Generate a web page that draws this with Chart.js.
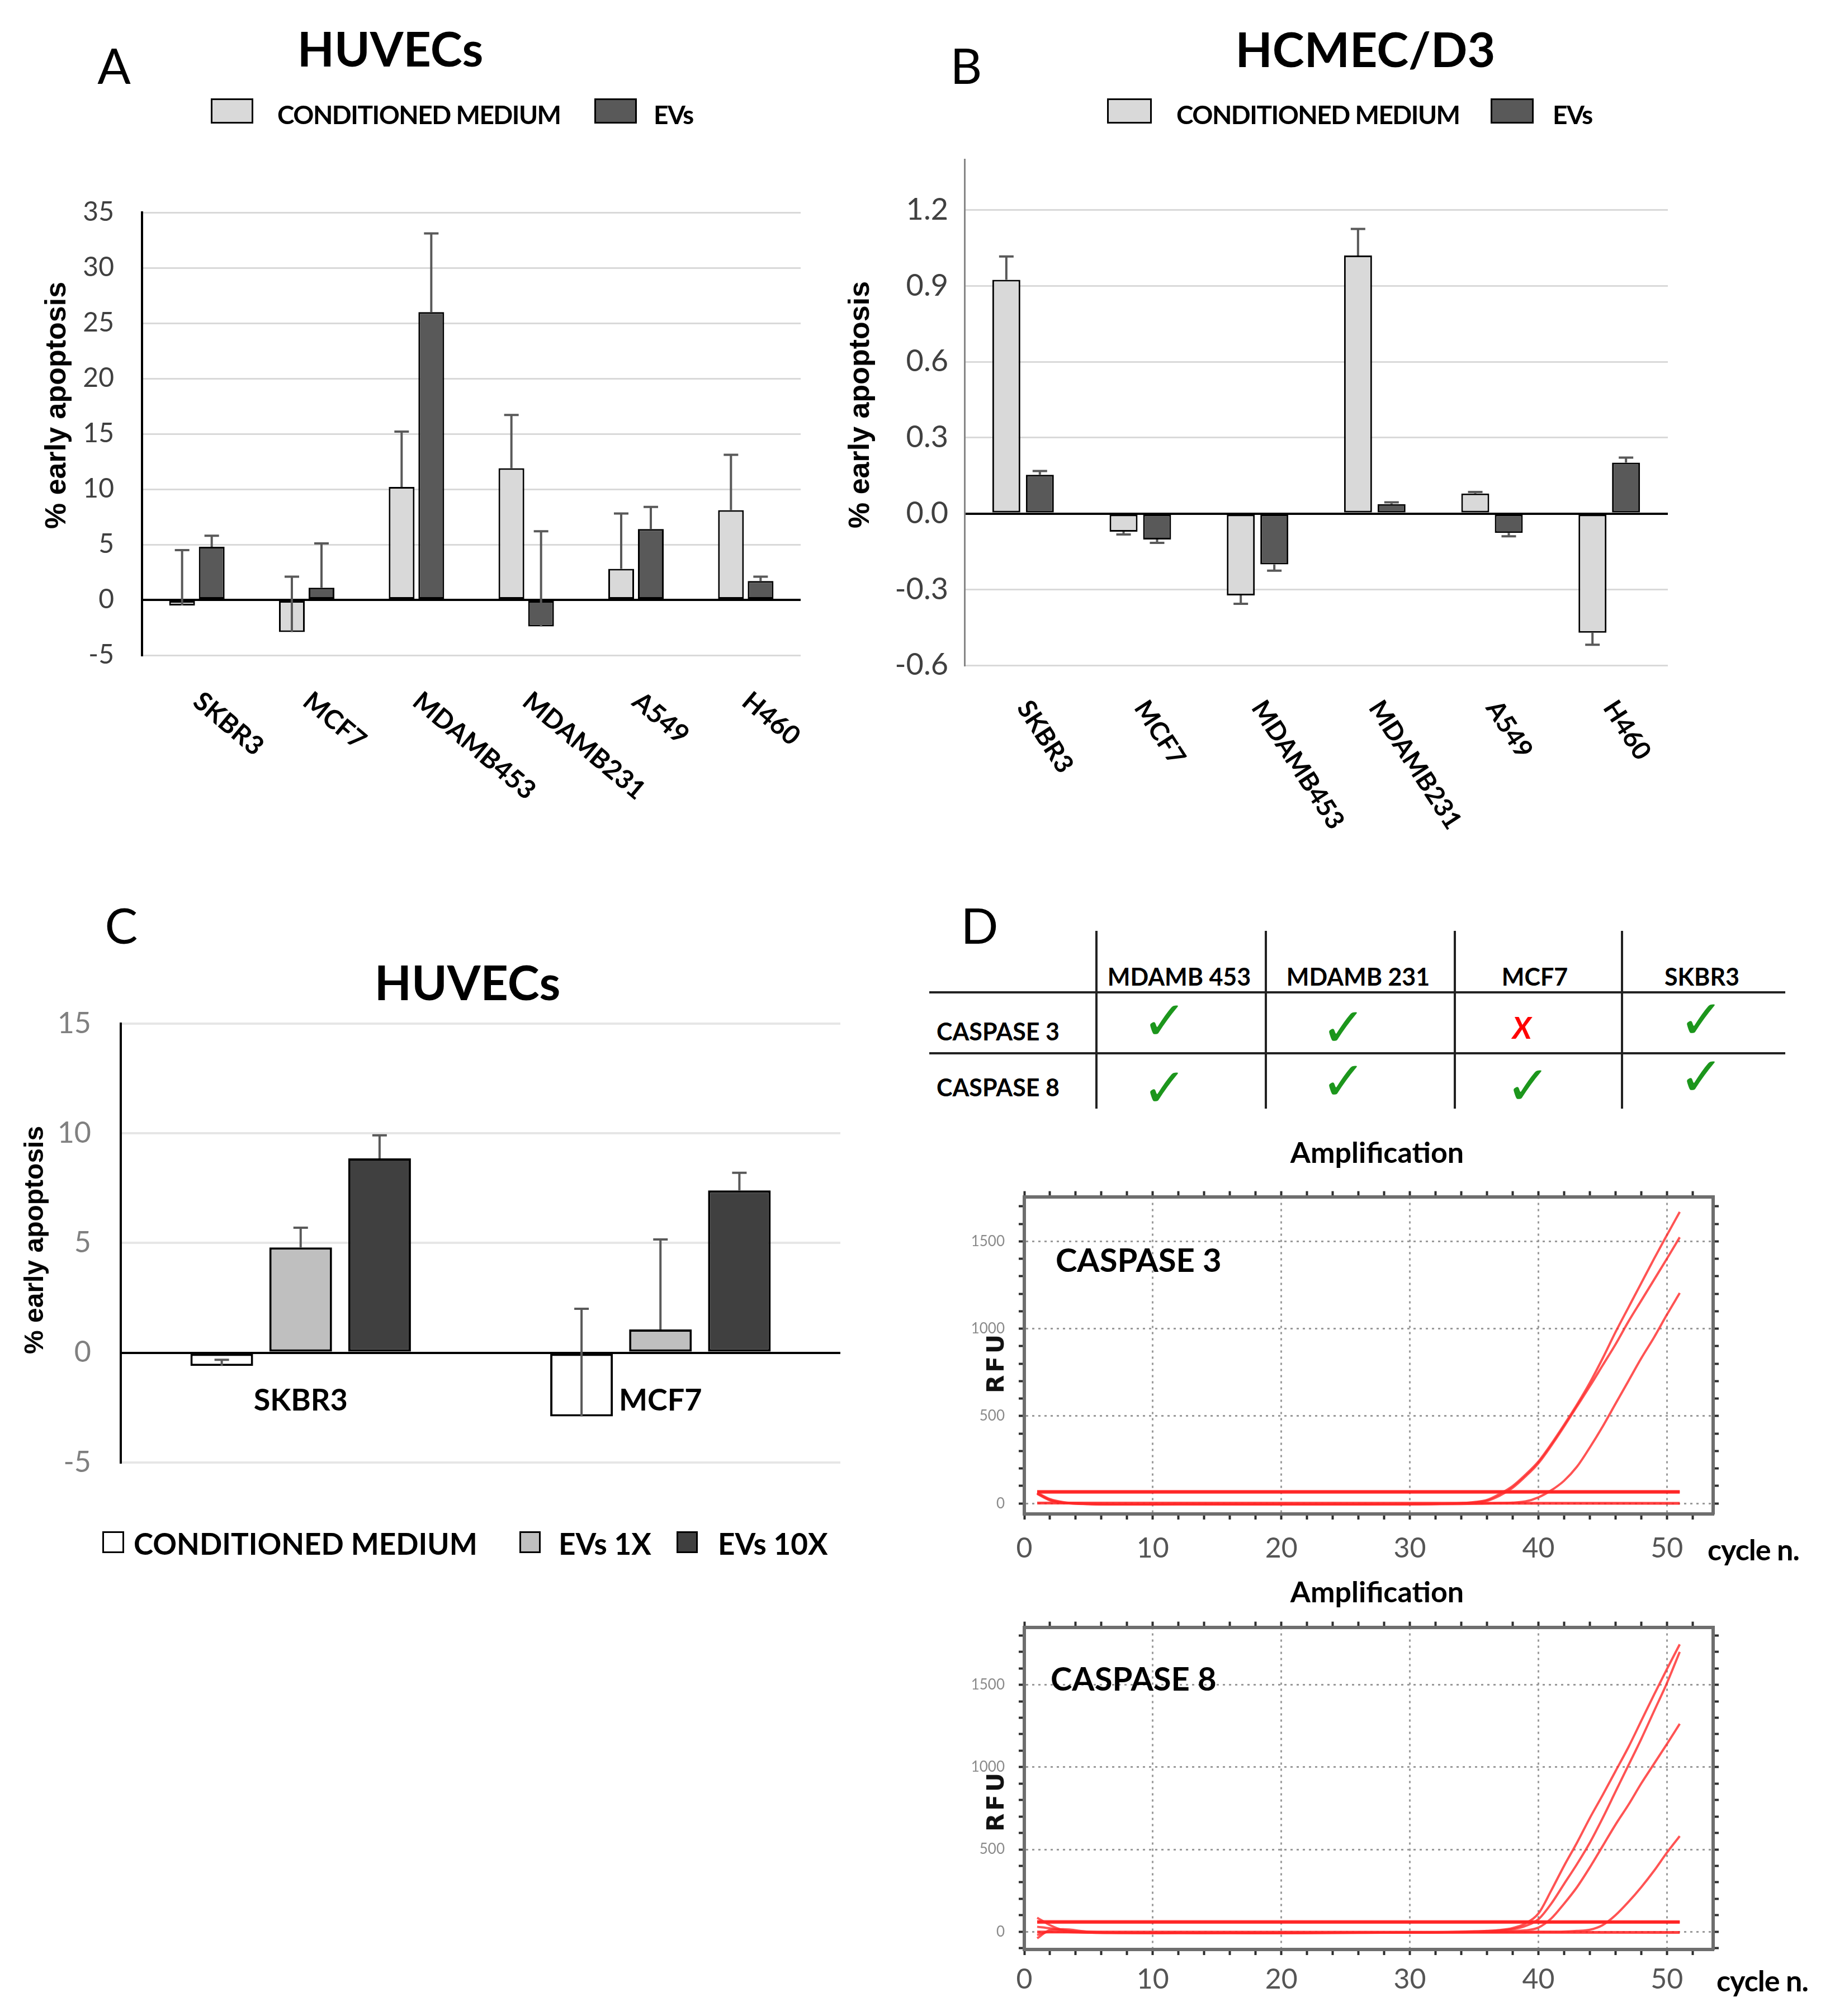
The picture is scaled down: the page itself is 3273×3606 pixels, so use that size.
<!DOCTYPE html>
<html>
<head>
<meta charset="utf-8">
<script src="https://cdn.jsdelivr.net/npm/chart.js@4.4.1/dist/chart.umd.min.js"></script>
<style>
html, body { margin:0; padding:0; background:#fff; }
body { width:3273px; height:3606px; position:relative; overflow:hidden; font-family:Lato, "Open Sans", sans-serif; color:#000; }
.wrap { position:absolute; }
.c { position:absolute; transform:translate(-50%,-50%); white-space:nowrap; line-height:1; }
.l { position:absolute; transform:translateY(-50%); white-space:nowrap; line-height:1; }
.yt { position:absolute; transform:translate(-50%,-50%) rotate(-90deg); white-space:nowrap; line-height:1;
      font-family:"Liberation Sans", Arial, sans-serif; font-weight:bold; }
.rfu { font-family:"DejaVu Sans", sans-serif; font-size:42px; letter-spacing:5px; color:#111; }
.box { position:absolute; box-sizing:border-box; border:3px solid #000; }
.letter { font-size:88px; }
.title { font-size:86px; font-weight:bold; }
.leg { font-size:46px; font-weight:bold; letter-spacing:-1.5px; }
.legC { font-size:53px; font-weight:bold; }
.th { font-size:43px; font-weight:bold; }
.ok { font-family:"DejaVu Sans", sans-serif; font-size:96px; color:#1c961c; }
.no { font-size:54px; font-weight:bold; font-style:italic; color:#f00; }
.amp { font-size:52px; font-weight:bold; }
.casp { font-size:58px; font-weight:bold; }
.cyc { font-size:52px; font-weight:bold; letter-spacing:-1px; }
.hl { position:absolute; height:4px; background:#222; }
.vl { position:absolute; width:4px; background:#222; }
</style>
</head>
<body>

<div class="wrap" style="left:0;top:0;width:1560px;height:1500px"><canvas id="chartA"></canvas></div>
<div class="wrap" style="left:1450px;top:0;width:1700px;height:1500px"><canvas id="chartB"></canvas></div>
<div class="wrap" style="left:0;top:1550px;width:1600px;height:1150px"><canvas id="chartC"></canvas></div>
<div class="wrap" style="left:1600px;top:2100px;width:1500px;height:700px"><canvas id="chartD1"></canvas></div>
<div class="wrap" style="left:1600px;top:2870px;width:1500px;height:710px"><canvas id="chartD2"></canvas></div>

<!-- panel letters and titles -->
<div class="c letter" style="left:204px;top:116px">A</div>
<div class="c letter" style="left:1728px;top:116px">B</div>
<div class="c letter" style="left:217px;top:1654px">C</div>
<div class="c letter" style="left:1752px;top:1654px">D</div>
<div class="c title" style="left:698px;top:86px">HUVECs</div>
<div class="c title" style="left:2442px;top:87px">HCMEC/D3</div>
<div class="c title" style="left:836px;top:1756px">HUVECs</div>

<!-- axis titles -->
<div class="yt" style="left:99px;top:725px;font-size:52px">% early apoptosis</div>
<div class="yt" style="left:1536px;top:724px;font-size:52px">% early apoptosis</div>
<div class="yt" style="left:61px;top:2218px;font-size:48px">% early apoptosis</div>
<div class="yt rfu" style="left:1781px;top:2437px">RFU</div>
<div class="yt rfu" style="left:1781px;top:3221px">RFU</div>

<!-- legends A / B -->
<div class="box" style="left:377px;top:176px;width:76px;height:45px;background:#d9d9d9"></div>
<div class="l leg" style="left:496px;top:205px">CONDITIONED MEDIUM</div>
<div class="box" style="left:1063px;top:176px;width:76px;height:45px;background:#595959"></div>
<div class="l leg" style="left:1169px;top:205px">EVs</div>
<div class="box" style="left:1980px;top:176px;width:80px;height:45px;background:#d9d9d9"></div>
<div class="l leg" style="left:2104px;top:205px">CONDITIONED MEDIUM</div>
<div class="box" style="left:2666px;top:176px;width:77px;height:45px;background:#595959"></div>
<div class="l leg" style="left:2777px;top:205px">EVs</div>

<!-- legend C -->
<div class="box" style="left:183px;top:2739px;width:39px;height:39px;background:#fff"></div>
<div class="l legC" style="left:239px;top:2760px">CONDITIONED MEDIUM</div>
<div class="box" style="left:929px;top:2739px;width:38px;height:39px;background:#bfbfbf"></div>
<div class="l legC" style="left:999px;top:2760px">EVs 1X</div>
<div class="box" style="left:1210px;top:2739px;width:38px;height:39px;background:#404040"></div>
<div class="l legC" style="left:1284px;top:2760px">EVs 10X</div>

<div id="table-d"></div>

<div class="c amp" style="left:2463px;top:2060px">Amplification</div>
<div class="c amp" style="left:2463px;top:2846px">Amplification</div>
<div class="l casp" style="left:1888px;top:2253px">CASPASE 3</div>
<div class="l casp" style="left:1879px;top:3002px">CASPASE 8</div>
<div class="l cyc" style="left:3054px;top:2771px">cycle n.</div>
<div class="l cyc" style="left:3070px;top:3542px">cycle n.</div>

<script>
// ===================================================
// DATA
// ===================================================
const cellLines = ['SKBR3', 'MCF7', 'MDAMB453', 'MDAMB231', 'A549', 'H460'];

// A - HUVECs (% early apoptosis), error = signed length of the error bar
const huvecCM     = [-0.5, -2.9, 10.2, 11.9, 2.8, 8.1];
const huvecCMErr  = [5.0, 5.0, 5.0, 4.8, 5.0, 5.0];
const huvecEV     = [4.8, 1.1, 26.0, -2.4, 6.4, 1.7];
const huvecEVErr  = [1.0, 4.0, 7.1, 8.6, 2.0, 0.4];

// B - HCMEC/D3
const hcmecCM     = [0.924, -0.072, -0.324, 1.020, 0.079, -0.471];
const hcmecCMErr  = [0.092, -0.011, -0.033, 0.105, 0.006, -0.048];
const hcmecEV     = [0.153, -0.103, -0.201, 0.037, -0.077, 0.201];
const hcmecEVErr  = [0.015, -0.013, -0.025, 0.007, -0.013, 0.020];

// C - HUVECs, EV dose
const doseLines   = ['SKBR3', 'MCF7'];
const doseCM      = [-0.6, -2.9];
const doseCMErr   = [0.28, 4.9];
const dose1X      = [4.8, 1.06];
const dose1XErr   = [0.9, 4.1];
const dose10X     = [8.86, 7.4];
const dose10XErr  = [1.05, 0.8];

// D - caspase expression table
const tableCols = ['MDAMB 453', 'MDAMB 231', 'MCF7', 'SKBR3'];
const tableRows = ['CASPASE 3', 'CASPASE 8'];
const tableHits = [[true, true, false, true], [true, true, true, true]];

// D - amplification curves (RFU per cycle)
const cycles = [1,2,3,5,8,12,16,20,24,28,32,34,35,36,37,38,39,40,41,42,43,44,45,46,47,48,49,50,51];
const casp3A = [62,25,8,-2,-5,-4,-6,-5,-4,-5,-3,2,8,20,55,100,165,240,340,450,565,690,830,980,1120,1260,1400,1535,1668];
const casp3B = [58,20,5,-3,-6,-5,-4,-6,-5,-4,-2,1,5,15,45,90,155,230,330,440,555,670,790,910,1040,1160,1280,1400,1523];
const casp3C = [55,18,4,-4,-6,-5,-5,-4,-6,-5,-4,-3,-2,0,2,5,12,35,75,130,210,320,440,570,700,830,950,1080,1204];
const casp8A = [85,40,10,-5,-8,-7,-8,-9,-8,-6,-4,0,2,5,10,22,50,110,250,400,540,690,830,975,1120,1280,1440,1595,1746];
const casp8B = [-40,10,15,0,-6,-8,-7,-8,-6,-5,-3,-1,1,3,7,15,35,75,170,290,410,540,690,850,1010,1170,1340,1510,1700];
const casp8C = [30,20,8,-3,-7,-8,-9,-8,-7,-6,-5,-3,-2,0,2,4,8,25,80,170,270,390,520,650,770,900,1020,1140,1263];
const casp8D = [-20,0,-2,-6,-8,-7,-6,-7,-6,-5,-4,-4,-3,-3,-2,-2,-1,0,0,1,5,12,40,100,180,270,370,480,581];
const flatCycles = [1, 51];
const casp3Flat = [[69, 69], [64, 64], [2, 1]];
const casp8Flat = [[62, 61], [57, 57], [-2, -4]];

Chart.defaults.font.family = 'Lato, "Open Sans", sans-serif';
Chart.defaults.color = '#000';
Chart.defaults.animation = false;

// ===================================================
// PLUGINS
// ===================================================
const errorBars = {
  id: 'errorBars',
  afterDatasetsDraw(chart, args, opts) {
    const {ctx} = chart;
    const y = chart.scales.y;
    chart.data.datasets.forEach((ds, di) => {
      if (!ds.errors) return;
      chart.getDatasetMeta(di).data.forEach((bar, i) => {
        const y0 = y.getPixelForValue(ds.data[i]);
        const y1 = y.getPixelForValue(ds.data[i] + ds.errors[i]);
        ctx.save();
        ctx.strokeStyle = opts.color;
        ctx.lineWidth = opts.width;
        ctx.beginPath();
        ctx.moveTo(bar.x, y0); ctx.lineTo(bar.x, y1);
        ctx.moveTo(bar.x - opts.cap, y1); ctx.lineTo(bar.x + opts.cap, y1);
        ctx.stroke();
        ctx.restore();
      });
    });
  }
};

// category names: rotated below the plot (A, B) or under the zero line (C)
const catLabels = {
  id: 'catLabels',
  afterDraw(chart, args, opts) {
    const {ctx, chartArea} = chart;
    const x = chart.scales.x, y = chart.scales.y;
    ctx.save();
    ctx.font = opts.font;
    ctx.fillStyle = opts.color;
    ctx.textAlign = opts.align;
    ctx.textBaseline = 'middle';
    chart.data.labels.forEach((lab, i) => {
      const base = opts.fromZero ? y.getPixelForValue(0) : chartArea.bottom;
      ctx.save();
      ctx.translate(x.getPixelForValue(i), base + opts.offset);
      ctx.rotate(opts.angle * Math.PI / 180);
      ctx.fillText(lab, 0, 0);
      ctx.restore();
    });
    ctx.restore();
  }
};

// ===================================================
// BAR PANELS
// ===================================================
function barChart(id, o) {
  return new Chart(document.getElementById(id), {
    type: 'bar',
    data: {
      labels: o.labels,
      datasets: o.series.map(s => ({
        label: s.label, data: s.data, errors: s.err,
        backgroundColor: s.color, borderColor: '#000', borderWidth: o.barBorder, borderSkipped: false,
        categoryPercentage: o.cp, barPercentage: o.bp
      }))
    },
    options: {
      responsive: true, maintainAspectRatio: false, animation: false,
      layout: {padding: o.pad},
      plugins: {
        legend: {display: false}, tooltip: {enabled: false},
        errorBars: {color: '#595959', width: 4, cap: 13},
        catLabels: o.cat
      },
      scales: {
        x: {display: false},
        y: {
          min: o.min, max: o.max,
          afterFit: s => { s.width = o.axisW; },
          ticks: {stepSize: o.step, includeBounds: false, padding: o.tickPad, color: o.tickColor,
                  font: {size: o.tickSize}, callback: o.fmt || (v => v)},
          grid: {drawTicks: false,
                 color: c => c.tick && c.tick.value === 0 ? '#000' : o.gridColor,
                 lineWidth: c => c.tick && c.tick.value === 0 ? 4 : o.gridW},
          border: {color: o.axisColor, width: o.axisW2}
        }
      }
    },
    plugins: [errorBars, catLabels]
  });
}

barChart('chartA', {
  labels: cellLines,
  series: [
    {label: 'CONDITIONED MEDIUM', data: huvecCM, err: huvecCMErr, color: '#d9d9d9'},
    {label: 'EVs', data: huvecEV, err: huvecEVErr, color: '#595959'}
  ],
  cp: 0.54, bp: 0.868, barBorder: 3,
  pad: {top: 380, right: 128, bottom: 328, left: 0},
  min: -5, max: 35, step: 5, axisW: 254, tickPad: 50, tickColor: '#404040', tickSize: 48,
  gridColor: '#d9d9d9', gridW: 3, axisColor: '#000', axisW2: 4,
  cat: {font: 'bold 47px Lato', color: '#000', align: 'left', angle: 40, offset: 76, fromZero: false}
});

barChart('chartB', {
  labels: cellLines,
  series: [
    {label: 'CONDITIONED MEDIUM', data: hcmecCM, err: hcmecCMErr, color: '#d9d9d9'},
    {label: 'EVs', data: hcmecEV, err: hcmecEVErr, color: '#595959'}
  ],
  cp: 0.572, bp: 0.833, barBorder: 3,
  pad: {top: 285, right: 167, bottom: 310, left: 0},
  min: -0.6, max: 1.4, step: 0.3, axisW: 275, tickPad: 29, tickColor: '#404040', tickSize: 54,
  fmt: v => v.toFixed(1),
  gridColor: '#d9d9d9', gridW: 3, axisColor: '#868686', axisW2: 3,
  cat: {font: 'bold 46px Lato', color: '#000', align: 'left', angle: 57, offset: 68, fromZero: false}
});

barChart('chartC', {
  labels: doseLines,
  series: [
    {label: 'CONDITIONED MEDIUM', data: doseCM, err: doseCMErr, color: '#ffffff'},
    {label: 'EVs 1X', data: dose1X, err: dose1XErr, color: '#bfbfbf'},
    {label: 'EVs 10X', data: dose10X, err: dose10XErr, color: '#404040'}
  ],
  cp: 0.658, bp: 0.794, barBorder: 4,
  pad: {top: 281, right: 97, bottom: 81, left: 0},
  min: -5, max: 15, step: 5, axisW: 216, tickPad: 53, tickColor: '#808080', tickSize: 52,
  gridColor: '#e6e6e6', gridW: 4, axisColor: '#000', axisW2: 4,
  cat: {font: 'bold 54px Lato', color: '#000', align: 'center', angle: 0, offset: 86, fromZero: true}
});

// ===================================================
// TABLE D
// ===================================================
function buildTable() {
  const el = document.getElementById('table-d');
  const vx = [1961, 2264, 2602, 2901];
  const hy = [1775, 1884];
  const headX = [2109, 2429, 2745, 3044];
  const rowY = [1844, 1944];
  const markX = [[2083, 2403, 2722, 3043], [2083, 2403, 2733, 3043]];
  const markY = [[1826, 1838, 1838, 1824], [1946, 1934, 1942, 1926]];
  let html = '';
  vx.forEach(x => { html += `<div class="vl" style="left:${x - 2}px;top:1665px;height:318px"></div>`; });
  hy.forEach(y => { html += `<div class="hl" style="top:${y - 2}px;left:1662px;width:1531px"></div>`; });
  tableCols.forEach((c, i) => { html += `<div class="c th" style="left:${headX[i]}px;top:1746px">${c}</div>`; });
  tableRows.forEach((r, ri) => {
    html += `<div class="l th" style="left:1675px;top:${rowY[ri]}px">${r}</div>`;
    tableHits[ri].forEach((hit, ci) => {
      html += hit
        ? `<div class="c ok" style="left:${markX[ri][ci]}px;top:${markY[ri][ci]}px">✓</div>`
        : `<div class="c no" style="left:${markX[ri][ci]}px;top:${markY[ri][ci]}px">X</div>`;
    });
  });
  el.innerHTML = html;
}
buildTable();

// ===================================================
// AMPLIFICATION PLOTS
// ===================================================
const pts = (xs, ys) => xs.map((x, i) => ({x, y: ys[i]}));

function ampChart(id, curves, flats, o) {
  const frame = {color: '#6e6e6e', width: 6};
  const tickMarks = {tickColor: '#2e2e2e', tickLength: 10, tickWidth: 4};
  const datasets = curves.map(c => ({
    data: pts(cycles, c), borderColor: 'rgba(255,40,40,0.8)', borderWidth: 4,
    pointRadius: 0, cubicInterpolationMode: 'monotone', fill: false
  })).concat(flats.map(f => ({
    data: pts(flatCycles, f), borderColor: 'rgba(255,30,30,0.85)', borderWidth: 5,
    pointRadius: 0, fill: false
  })));
  return new Chart(document.getElementById(id), {
    type: 'line',
    data: {datasets},
    options: {
      responsive: true, maintainAspectRatio: false, animation: false,
      layout: {padding: {top: o.padTop, right: 36, bottom: 0, left: 0}},
      plugins: {legend: {display: false}, tooltip: {enabled: false}},
      scales: {
        x: {
          type: 'linear', min: 0, max: 53.6,
          afterFit: s => { s.height = o.xH; },
          ticks: {stepSize: 2, autoSkip: false, includeBounds: false, maxRotation: 0,
                  callback: v => v % 10 === 0 ? v : '', color: '#555', font: {size: 50}, padding: o.xPad},
          grid: Object.assign({color: c => c.tick && c.tick.value % 10 === 0 && c.tick.value > 0 ? '#9a9a9a' : 'rgba(0,0,0,0)',
                 lineWidth: 3}, tickMarks),
          border: Object.assign({dash: [4, 7]}, frame)
        },
        x2: {
          type: 'linear', position: 'top', min: 0, max: 53.6,
          afterFit: s => { s.height = 0; },
          ticks: {display: false, stepSize: 2, includeBounds: false},
          grid: Object.assign({drawOnChartArea: false}, tickMarks),
          border: frame
        },
        y: {
          min: o.min, max: o.max,
          afterFit: s => { s.width = 232; },
          ticks: {stepSize: 100, autoSkip: false, includeBounds: false,
                  callback: v => v % 500 === 0 ? v : '', color: '#8a8a8a', font: {size: 26}, padding: 25},
          grid: Object.assign({color: c => c.tick && c.tick.value % 500 === 0 ? '#9a9a9a' : 'rgba(0,0,0,0)',
                 lineWidth: 3}, tickMarks),
          border: Object.assign({dash: [4, 7]}, frame)
        },
        y2: {
          position: 'right', min: o.min, max: o.max,
          afterFit: s => { s.width = 0; },
          ticks: {display: false, stepSize: 100, includeBounds: false},
          grid: Object.assign({drawOnChartArea: false}, tickMarks),
          border: frame
        }
      }
    }
  });
}

ampChart('chartD1', [casp3A, casp3B, casp3C], casp3Flat,
  {padTop: 19, xH: 92, xPad: 22, min: -60, max: 1755});
ampChart('chartD2', [casp8A, casp8B, casp8C, casp8D], casp8Flat,
  {padTop: 18, xH: 93, xPad: 14, min: -108, max: 1850});
</script>
</body>
</html>
